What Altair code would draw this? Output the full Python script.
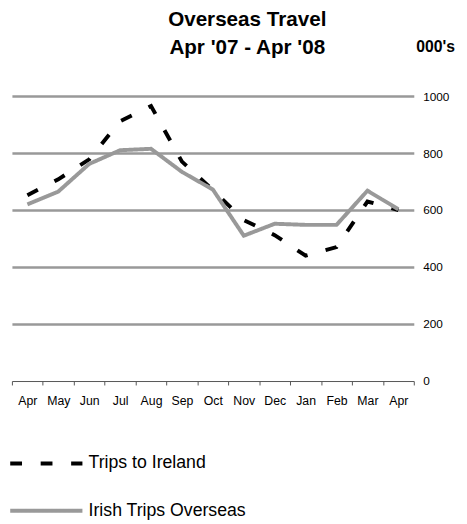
import altair as alt
import pandas as pd

months = ["Apr", "May", "Jun", "Jul", "Aug", "Sep", "Oct", "Nov", "Dec", "Jan", "Feb", "Mar", "Apr "]
trips_to_ireland = [652, 708, 778, 912, 965, 770, 670, 565, 512, 440, 470, 630, 600]
irish_trips_overseas = [620, 665, 762, 810, 815, 734, 672, 510, 552, 548, 548, 668, 603]
series_names = ["Trips to Ireland", "Irish Trips Overseas"]

rows = []
for m, v in zip(months, trips_to_ireland):
    rows.append({"month": m, "value": v, "series": series_names[0]})
for m, v in zip(months, irish_trips_overseas):
    rows.append({"month": m, "value": v, "series": series_names[1]})
df = pd.DataFrame(rows)

FONT = "Liberation Sans"

x = alt.X("month:N", sort=months, title=None,
          scale=alt.Scale(paddingInner=0, paddingOuter=0),
          axis=alt.Axis(labelAngle=0, labelFontSize=12.5, labelFont=FONT, labelColor="#000",
                        domainColor="#555", domainWidth=1, tickColor="#555", tickSize=4,
                        tickBand="extent", labelPadding=10, grid=False,
                        labelExpr="trim(datum.label)"))
y = alt.Y("value:Q", title="000's",
          scale=alt.Scale(domain=[0, 1000], nice=False),
          axis=alt.Axis(orient="right", values=[0, 200, 400, 600, 800, 1000], format="d",
                        labelFontSize=12, labelFont=FONT, labelColor="#000",
                        domain=False, ticks=False, labelPadding=9,
                        grid=True, gridColor="#999", gridWidth=2.5,
                        gridOpacity={"condition": {"test": "datum.value == 0", "value": 0}, "value": 1},
                        titleAngle=0, titleAlign="left", titleBaseline="alphabetic",
                        titleX=2, titleY=-45, titleFont=FONT, titleFontSize=16,
                        titleFontWeight="bold", titleColor="#000"))
color = alt.Color("series:N", scale=alt.Scale(domain=series_names, range=["#000000", "#999999"]),
                  legend=alt.Legend(title=None, orient="none", legendX=-4, legendY=335,
                                    direction="vertical", symbolType="stroke",
                                    symbolSize=5400, symbolStrokeWidth=4,
                                    labelFont=FONT, labelFontSize=18, labelColor="#000",
                                    labelLimit=400, rowPadding=-7, labelOffset=4))
dash = alt.StrokeDash("series:N", scale=alt.Scale(domain=series_names, range=[[12, 19], [1, 0]]),
                      legend=None)

base = alt.Chart(df).mark_line(strokeWidth=4).encode(x=x, y=y, color=color, strokeDash=dash)

l1 = base.transform_filter(alt.datum.series == series_names[0])
l2 = base.transform_filter(alt.datum.series == series_names[1])

chart = alt.layer(l1, l2).properties(
    width=409, height=290,
    title=alt.TitleParams(["Overseas Travel", "Apr '07 - Apr '08"], font=FONT, fontSize=21,
                          fontWeight="bold", color="#000", lineHeight=28, anchor="middle",
                          offset=-19, dx=35),
    autosize=alt.AutoSizeParams(type="none"),
    padding={"left": 4, "top": 85, "right": 46, "bottom": 150},
).configure_view(stroke=None)

chart.save("out.html", embed_options={"renderer": "svg", "actions": False})
